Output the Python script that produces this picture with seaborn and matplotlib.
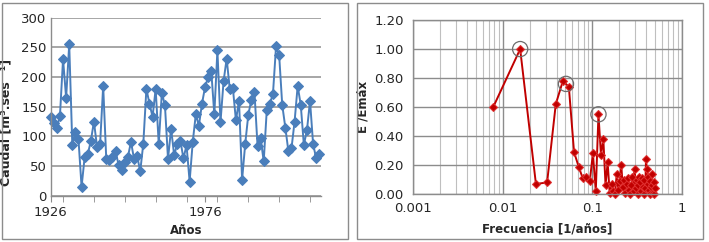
import numpy as np
import pandas as pd
import matplotlib
matplotlib.use("Agg")
import matplotlib.pyplot as plt
import matplotlib.ticker as mticker
from matplotlib.patches import Rectangle
import seaborn as sns

# Serie anual de caudales
anio_inicio = 1926
caudal = [132, 122, 114, 135, 230, 165, 255, 86, 108, 95, 15, 65, 70, 92,
          125, 83, 87, 185, 62, 60, 65, 75, 52, 44, 57, 65, 91, 62, 67, 41,
          88, 180, 155, 133, 180, 87, 173, 153, 62, 113, 68, 88, 93, 63, 85,
          24, 90, 137, 118, 155, 183, 200, 211, 137, 245, 124, 193, 231, 180,
          182, 127, 160, 27, 87, 136, 162, 175, 84, 97, 58, 145, 155, 172,
          252, 237, 153, 115, 75, 80, 125, 185, 153, 86, 110, 160, 87, 63, 70]
anios = list(range(anio_inicio, anio_inicio + len(caudal)))

# Espectro normalizado (k/128 ciclos por anio)
k_frec = list(range(1, 65))
energia = [0.60, 1.00, 0.07, 0.08, 0.62, 0.78, 0.74, 0.29, 0.19, 0.11,
           0.12, 0.09, 0.28, 0.02, 0.55, 0.27, 0.38, 0.06, 0.22, 0.01,
           0.07, 0.02, 0.00, 0.14, 0.03, 0.09, 0.20, 0.05, 0.10, 0.01,
           0.07, 0.11, 0.03, 0.00, 0.06, 0.12, 0.02, 0.17, 0.04, 0.10,
           0.00, 0.06, 0.12, 0.08, 0.02, 0.11, 0.05, 0.00, 0.10, 0.04,
           0.24, 0.17, 0.07, 0.12, 0.03, 0.09, 0.00, 0.05, 0.14, 0.06,
           0.01, 0.08, 0.00, 0.04]
picos = [[1], [5, 6], [14]]  # indices de los picos marcados con circulo

df_caudal = pd.DataFrame({"anio": anios, "caudal": caudal})
df_esp = pd.DataFrame({"frec": np.array(k_frec) / 128.0, "E": energia})

sns.set_style("white")
plt.rcParams["font.family"] = ["DejaVu Sans"]

fig = plt.figure(figsize=(7.09, 2.42), dpi=100)

# marcos de cada grafico
for x0 in (2, 357):
    fig.patches.append(Rectangle((x0 / 709, 3 / 242), 346 / 709, 236 / 242,
                                 transform=fig.transFigure, fill=False,
                                 edgecolor="#8c8c8c", lw=1.0))

grid_col = "#a6a6a6"
tick_fs = 9.5
lab_fs = 8.5

# --- Caudal ---
ax1 = fig.add_axes([0.0715, 0.191, 0.381, 0.736])
sns.lineplot(data=df_caudal, x="anio", y="caudal", ax=ax1, color="#4a7ebb",
             lw=1.4, marker="D", markersize=5.5, markeredgecolor="#4a7ebb",
             clip_on=False)
ax1.set_xlim(anios[0], anios[-1] + 0.5)
ax1.set_ylim(0, 300)
ax1.set_yticks(range(0, 301, 50))
ax1.yaxis.grid(True, color=grid_col, lw=1.4)
ax1.set_axisbelow(True)
ax1.xaxis.set_major_locator(mticker.FixedLocator([1926, 1976]))
ax1.xaxis.set_minor_locator(mticker.MultipleLocator(10))
ax1.xaxis.set_minor_formatter(mticker.NullFormatter())
ax1.tick_params(axis="x", which="both", direction="out", length=4,
                color="#8c8c8c", labelsize=tick_fs, bottom=True, pad=3)
ax1.tick_params(axis="y", length=0, labelsize=tick_fs, pad=3)
for s in ("top", "right"):
    ax1.spines[s].set_visible(False)
for s in ("left", "bottom"):
    ax1.spines[s].set_color("#8c8c8c")
    ax1.spines[s].set_linewidth(1.0)
ax1.set_xlabel("Años", fontsize=lab_fs, fontweight="bold", labelpad=4)
ax1.set_ylabel("Caudal [m³.ses ⁻¹]", fontsize=9, fontweight="bold")
ax1.yaxis.set_label_coords(-0.14, 0.41)

# --- Espectro ---
ax2 = fig.add_axes([0.583, 0.198, 0.3786, 0.719])
sns.lineplot(data=df_esp, x="frec", y="E", ax=ax2, color="#c00000", lw=1.4,
             marker="D", markersize=4, markeredgecolor="#e03030", clip_on=False)
ax2.set_xscale("log")
ax2.set_xlim(0.001, 1)
ax2.set_ylim(0, 1.2)
ax2.set_yticks(np.arange(0, 1.21, 0.2))
ax2.yaxis.set_major_formatter(mticker.FormatStrFormatter("%.2f"))
ax2.xaxis.set_major_locator(mticker.FixedLocator([0.001, 0.01, 0.1, 1]))
ax2.xaxis.set_major_formatter(mticker.FixedFormatter(["0.001", "0.01", "0.1", "1"]))
ax2.xaxis.set_minor_locator(mticker.LogLocator(base=10, subs=np.arange(2, 10)))
ax2.xaxis.set_minor_formatter(mticker.NullFormatter())
ax2.grid(True, which="major", color="#8c8c8c", lw=1.0)
ax2.grid(True, which="minor", axis="x", color="#bfbfbf", lw=0.8)
ax2.set_axisbelow(True)
ax2.tick_params(axis="both", which="both", length=0, labelsize=tick_fs)
ax2.tick_params(axis="y", pad=7)
ax2.tick_params(axis="x", pad=6)
for s in ax2.spines.values():
    s.set_color("#8c8c8c")
    s.set_linewidth(1.0)
for p in picos:
    fx = df_esp["frec"].iloc[p].mean()
    fy = df_esp["E"].iloc[p].mean()
    ax2.scatter([fx], [fy], s=120, facecolors="none", edgecolors="#6e6e6e",
                linewidths=0.9, zorder=5)
ax2.set_xlabel("Frecuencia [1/años]", fontsize=lab_fs, fontweight="bold",
               labelpad=5)
ax2.set_ylabel("E /Emáx", fontsize=lab_fs, fontweight="bold", labelpad=3)

fig.savefig("out.png", dpi=100)
